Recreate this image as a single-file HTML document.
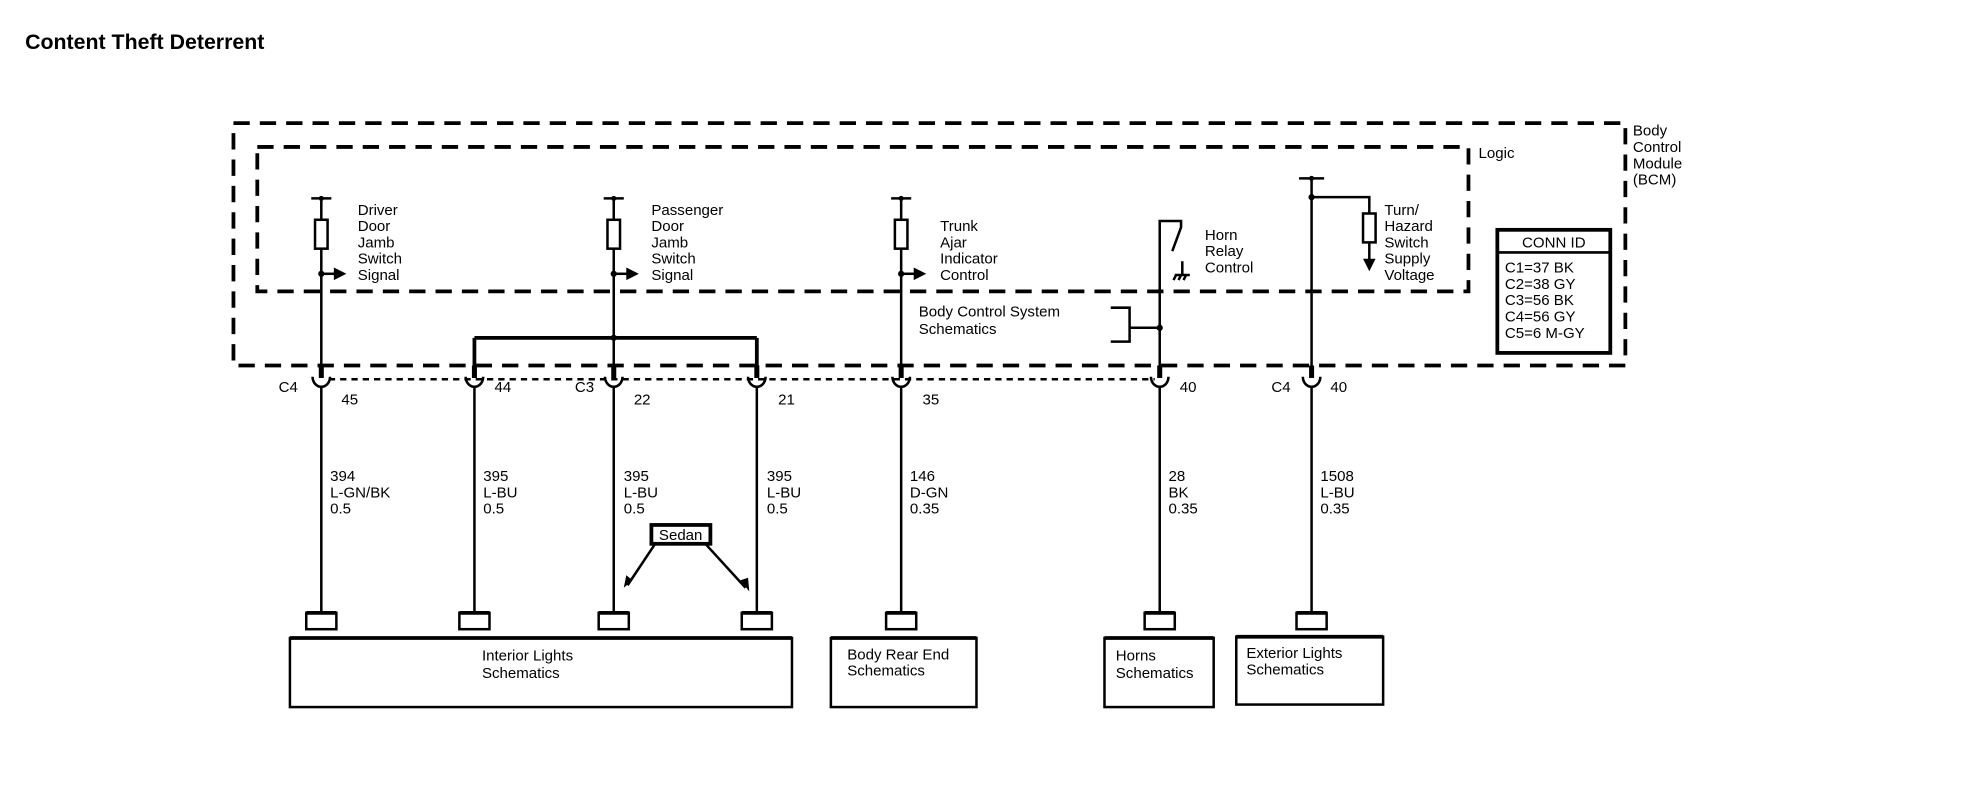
<!DOCTYPE html>
<html><head><style>html,body{margin:0;padding:0;background:#fff}svg{display:block}text{font-family:"Liberation Sans",Arial,sans-serif;fill:#000}</style></head>
<body>
<svg width="1968" height="800" viewBox="0 0 1568 637" preserveAspectRatio="none" xmlns="http://www.w3.org/2000/svg">
<text x="20" y="39" font-size="17" font-weight="bold">Content Theft Deterrent</text>
<g fill="none" stroke="#000">
<rect x="186" y="98" width="1109" height="193" stroke-width="3" stroke-dasharray="13,8"/>
<rect x="205" y="117" width="965" height="115" stroke-width="3" stroke-dasharray="13,8"/>
<g stroke-width="2">
<!-- driver -->
<path d="M248 158H264M256 158V175M256 198V291"/>
<rect x="251" y="175" width="10" height="23"/>
<path d="M256 218H268"/>
<!-- passenger -->
<path d="M481 158H497M489 158V175M489 198V291"/>
<rect x="484" y="175" width="10" height="23"/>
<path d="M489 218H501"/>
<!-- trunk -->
<path d="M710 158H726M718 158V175M718 198V291"/>
<rect x="713" y="175" width="10" height="23"/>
<path d="M718 218H730"/>
<!-- horn -->
<path d="M924 291V176H941V181L934 200"/>
<path d="M942 208V219M936 219H948M937 219L935 223M941 219L939 223M945 219L943 223"/>
<path d="M885 245H900V272H885M900 261H924"/>
<!-- turn -->
<path d="M1035 142H1055M1045 142V291M1045 157H1091V170M1091 193V207"/>
<rect x="1086" y="170" width="10" height="23"/>
<!-- bus -->
<path d="M378 269H603M378 269V291M603 269V291" stroke-width="3"/>
<!-- conn id -->
<rect x="1193" y="183" width="90" height="98" stroke-width="3"/>
<path d="M1193 201H1283"/>
<!-- dotted -->
<path d="M262 302H920" stroke-dasharray="5,4"/>
</g>
<!-- connectors -->
<g stroke-width="4">
<path d="M256 291V301M378 291V301M489 291V301M603 291V301M718 291V301M924 291V301M1045 291V301"/>
</g>
<g stroke-width="2">
<path d="M249 300A7 8 0 0 0 263 300M371 300A7 8 0 0 0 385 300M482 300A7 8 0 0 0 496 300M596 300A7 8 0 0 0 610 300M711 300A7 8 0 0 0 725 300M917 300A7 8 0 0 0 931 300M1038 300A7 8 0 0 0 1052 300"/>
<path d="M256 308V487M378 308V487M489 308V487M603 308V487M718 308V487M924 308V487M1045 308V487"/>
<rect x="244" y="488" width="24" height="13"/><rect x="366" y="488" width="24" height="13"/><rect x="477" y="488" width="24" height="13"/><rect x="591" y="488" width="24" height="13"/><rect x="706" y="488" width="24" height="13"/><rect x="912" y="488" width="24" height="13"/><rect x="1033" y="488" width="24" height="13"/>
<rect x="231" y="508" width="400" height="55"/>
<rect x="662" y="508" width="116" height="55"/>
<rect x="880" y="508" width="87" height="55"/>
<rect x="985" y="507" width="117" height="54"/>
<rect x="519" y="418" width="47" height="15" stroke-width="3"/>
<path d="M522 433L500 466M562 433L594 468"/>
</g>
<g stroke-width="3"><path d="M244 488H268M366 488H390M477 488H501M591 488H615M706 488H730M912 488H936M1033 488H1057M231 508H631M662 508H778M880 508H967M985 507H1102"/></g>
</g>
<g fill="#000">
<circle cx="256" cy="158" r="2"/><circle cx="256" cy="218" r="2.5"/><circle cx="489" cy="158" r="2"/><circle cx="489" cy="218" r="2.5"/><circle cx="718" cy="158" r="2"/><circle cx="718" cy="218" r="2.5"/><circle cx="1045" cy="142" r="2"/><circle cx="1045" cy="157" r="2.5"/><circle cx="489" cy="269" r="2.5"/><circle cx="924" cy="261" r="2.5"/>
<path d="M266 213L276 218L266 223Z M499 213L509 218L499 223Z M728 213L738 218L728 223Z M1086 206L1096 206L1091 216Z"/>
<path d="M497 468L499 458L504 462Z M597 471L590 462L596 460Z"/>
</g>
<g font-size="12">
<text x="285" y="171">Driver</text><text x="285" y="184">Door</text><text x="285" y="197">Jamb</text><text x="285" y="210">Switch</text><text x="285" y="223">Signal</text>
<text x="519" y="171">Passenger</text><text x="519" y="184">Door</text><text x="519" y="197">Jamb</text><text x="519" y="210">Switch</text><text x="519" y="223">Signal</text>
<text x="749" y="184">Trunk</text><text x="749" y="197">Ajar</text><text x="749" y="210">Indicator</text><text x="749" y="223">Control</text>
<text x="960" y="191">Horn</text><text x="960" y="204">Relay</text><text x="960" y="217">Control</text>
<text x="1103" y="171">Turn/</text><text x="1103" y="184">Hazard</text><text x="1103" y="197">Switch</text><text x="1103" y="210">Supply</text><text x="1103" y="223">Voltage</text>
<text x="1178" y="126">Logic</text>
<text x="1301" y="108">Body</text><text x="1301" y="121">Control</text><text x="1301" y="134">Module</text><text x="1301" y="147">(BCM)</text>
<text x="732" y="252">Body Control System</text><text x="732" y="266">Schematics</text>
<text x="1238" y="197" text-anchor="middle">CONN ID</text>
<text x="1199" y="217">C1=37 BK</text><text x="1199" y="230">C2=38 GY</text><text x="1199" y="243">C3=56 BK</text><text x="1199" y="256">C4=56 GY</text><text x="1199" y="269">C5=6 M-GY</text>
<text x="222" y="312">C4</text><text x="272" y="322">45</text><text x="394" y="312">44</text><text x="458" y="312">C3</text><text x="505" y="322">22</text><text x="620" y="322">21</text><text x="735" y="322">35</text><text x="940" y="312">40</text><text x="1013" y="312">C4</text><text x="1060" y="312">40</text>
<text x="263" y="383">394</text><text x="263" y="396">L-GN/BK</text><text x="263" y="409">0.5</text>
<text x="385" y="383">395</text><text x="385" y="396">L-BU</text><text x="385" y="409">0.5</text>
<text x="497" y="383">395</text><text x="497" y="396">L-BU</text><text x="497" y="409">0.5</text>
<text x="611" y="383">395</text><text x="611" y="396">L-BU</text><text x="611" y="409">0.5</text>
<text x="725" y="383">146</text><text x="725" y="396">D-GN</text><text x="725" y="409">0.35</text>
<text x="931" y="383">28</text><text x="931" y="396">BK</text><text x="931" y="409">0.35</text>
<text x="1052" y="383">1508</text><text x="1052" y="396">L-BU</text><text x="1052" y="409">0.35</text>
<text x="525" y="430">Sedan</text>
<text x="384" y="526">Interior Lights</text><text x="384" y="540">Schematics</text>
<text x="675" y="525">Body Rear End</text><text x="675" y="538">Schematics</text>
<text x="889" y="526">Horns</text><text x="889" y="540">Schematics</text>
<text x="993" y="524">Exterior Lights</text><text x="993" y="537">Schematics</text>
</g>
</svg>
</body></html>
